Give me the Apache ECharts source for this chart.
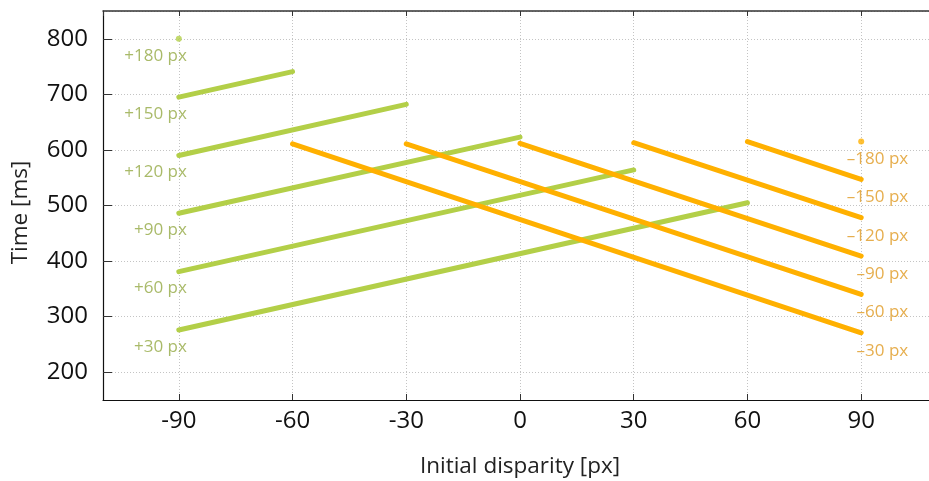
<!DOCTYPE html>
<html>
<head>
<meta charset="utf-8">
<script src="https://cdn.jsdelivr.net/npm/echarts@6/dist/echarts.min.js"></script>
<style>
html,body{margin:0;padding:0;background:#fff;}
#chart{width:929px;height:481px;}
</style>
</head>
<body>
<div id="chart"></div>
<script>
// Positive initial disparities (green): start x, end x, start time, end time
const greenLabels = ['+30 px', '+60 px', '+90 px', '+120 px', '+150 px', '+180 px'];
const greenStartX = [-90, -90, -90, -90, -90, -90];
const greenEndX   = [60, 30, 0, -30, -60, -90];
const greenStartY = [276, 381, 486, 590, 695, 800];
const greenEndY   = [505, 564, 623, 682, 741, 800];

// Negative initial disparities (orange)
const orangeLabels = ['\u201330 px', '\u201360 px', '\u201390 px', '\u2013120 px', '\u2013150 px', '\u2013180 px'];
const orangeStartX = [-60, -30, 0, 30, 60, 90];
const orangeEndX   = [90, 90, 90, 90, 90, 90];
const orangeStartY = [611, 611, 612, 613, 615, 615];
const orangeEndY   = [271, 340, 409, 478, 547, 615];

const xTicks = [-90, -60, -30, 0, 30, 60, 90];
const yTicks = [200, 300, 400, 500, 600, 700, 800];

const GREEN = '#b3cf48';
const GREEN_TXT = '#93a944';
const ORANGE = '#ffb000';
const ORANGE_TXT = '#e09a22';
const FONT = '"Open Sans", "Noto Sans", sans-serif';

const series = [];
function addGroup(sx, ex, sy, ey, labels, color, txtColor, labelAtStart, offset) {
  for (let i = 0; i < labels.length; i++) {
    if (sx[i] === ex[i] && sy[i] === ey[i]) {
      series.push({
        type: 'scatter', symbol: 'circle', symbolSize: 6,
        itemStyle: { color: color }, silent: true,
        data: [[sx[i], sy[i]]], z: 3
      });
    } else {
      series.push({
        type: 'line', showSymbol: false, silent: true,
        lineStyle: { color: color, width: 5, cap: 'round' },
        data: [[sx[i], sy[i]], [ex[i], ey[i]]], z: 3
      });
    }
    const lx = labelAtStart ? sx[i] : ex[i];
    const ly = labelAtStart ? sy[i] : ey[i];
    series.push({
      type: 'scatter', symbolSize: 0, silent: true,
      itemStyle: { color: txtColor },
      label: {
        show: true, position: 'inside', formatter: labels[i],
        align: 'right', verticalAlign: 'middle', offset: offset,
        color: txtColor, fontSize: 17, fontFamily: FONT
      },
      data: [[lx, ly]], z: 4
    });
  }
}
addGroup(greenStartX, greenEndX, greenStartY, greenEndY, greenLabels, GREEN, GREEN_TXT, true, [8, 17]);
addGroup(orangeStartX, orangeEndX, orangeStartY, orangeEndY, orangeLabels, ORANGE, ORANGE_TXT, false, [47, 18]);

const gridLine = { show: true, lineStyle: { color: '#c4c4c4', type: [1, 2], width: 1 } };

const chart = echarts.init(document.getElementById('chart'), null, { renderer: 'canvas' });
chart.setOption({
  animation: false,
  backgroundColor: '#fff',
  grid: { left: 103, top: 11, width: 834, height: 389, containLabel: false, outerBoundsMode: 'none' },
  xAxis: [{
    type: 'value', min: -110, max: 110, splitNumber: 7,
    position: 'bottom',
    name: 'Initial disparity [px]', nameLocation: 'middle', nameGap: 55,
    nameTextStyle: { fontSize: 22.5, fontFamily: FONT, color: '#222' },
    axisLine: { show: true, onZero: false, lineStyle: { color: '#111', width: 1.2 } },
    axisTick: { show: true, inside: true, length: 6, lineStyle: { color: '#333' } },
    axisLabel: {
      show: true, margin: 9, fontSize: 24, fontFamily: FONT, color: '#111',
      showMinLabel: false, showMaxLabel: false,
      formatter: v => (xTicks.indexOf(v) >= 0 ? String(v) : '')
    },
    splitLine: gridLine
  }, {
    type: 'value', min: -110, max: 110, splitNumber: 7,
    position: 'top',
    axisLine: { show: true, onZero: false, lineStyle: { color: '#333', width: 1.5 } },
    axisTick: { show: true, inside: true, length: 5, lineStyle: { color: '#333' } },
    axisLabel: { show: false },
    splitLine: { show: false }
  }],
  yAxis: {
    type: 'value', min: 150, max: 850, splitNumber: 7,
    name: 'Time [ms]', nameLocation: 'middle', nameGap: 71, nameRotate: 90,
    nameTextStyle: { fontSize: 22.5, fontFamily: FONT, color: '#222', padding: [0, 14, 0, 0] },
    axisLine: { show: true, onZero: false, lineStyle: { color: '#111', width: 1.2 } },
    axisTick: { show: true, inside: true, length: 9, lineStyle: { color: '#333' } },
    axisLabel: {
      show: true, margin: 15, fontSize: 24, fontFamily: FONT, color: '#111',
      showMinLabel: false, showMaxLabel: false,
      formatter: v => (yTicks.indexOf(v) >= 0 ? String(v) : '')
    },
    splitLine: gridLine
  },
  series: series
});
</script>
</body>
</html>
